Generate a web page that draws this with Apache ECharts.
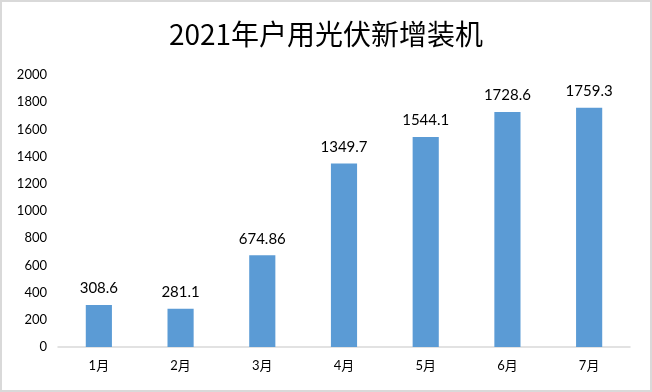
<!DOCTYPE html>
<html><head><meta charset="utf-8">
<script src="https://cdn.jsdelivr.net/npm/echarts@6/dist/echarts.min.js"></script>
<style>html,body{margin:0;padding:0;background:#fff}#c{width:652px;height:392px}</style>
</head><body><div id="c"></div>
<script>
const titleText = '2021年户用光伏新增装机';
const categories = ['1月','2月','3月','4月','5月','6月','7月'];
const values = [308.6, 281.1, 674.86, 1349.7, 1544.1, 1728.6, 1759.3];
const labels = ['308.6','281.1','674.86','1349.7','1544.1','1728.6','1759.3'];
const yTicks = [0,200,400,600,800,1000,1200,1400,1600,1800,2000];
const font = 'Lato, "Noto Sans CJK SC", sans-serif';
const chart = echarts.init(document.getElementById('c'));
chart.setOption({
  animation: false,
  backgroundColor: '#fff',
  title: { text: titleText, left: 'center', top: 15, textStyle: { fontFamily: '"Noto Sans CJK SC", sans-serif', fontSize: 28, fontWeight: 'normal', color: '#000' } },
  graphic: [{ type: 'rect', shape: { x: 1, y: 1, width: 650, height: 390 }, style: { fill: 'none', stroke: '#d9d9d9', lineWidth: 2 }, silent: true }],
  grid: { left: 58, right: 22, top: 75, bottom: 45 },
  xAxis: { type: 'category', data: categories, axisLine: { lineStyle: { color: '#d9d9d9', width: 1.5 } }, axisTick: { show: false },
    axisLabel: { fontFamily: font, fontSize: 13, color: '#000', margin: 12 } },
  yAxis: { type: 'value', min: yTicks[0], max: yTicks[yTicks.length-1], interval: 200, splitLine: { show: false }, axisLine: { show: false }, axisTick: { show: false },
    axisLabel: { fontFamily: font, fontSize: 13, color: '#000', margin: 11, formatter: v => String(v) } },
  series: [{ type: 'bar', data: values, barWidth: '32%', itemStyle: { color: '#5b9bd5' },
    label: { show: true, position: 'top', distance: 9, fontFamily: font, fontSize: 15, color: '#000', formatter: p => labels[p.dataIndex] } }]
});
</script></body></html>
